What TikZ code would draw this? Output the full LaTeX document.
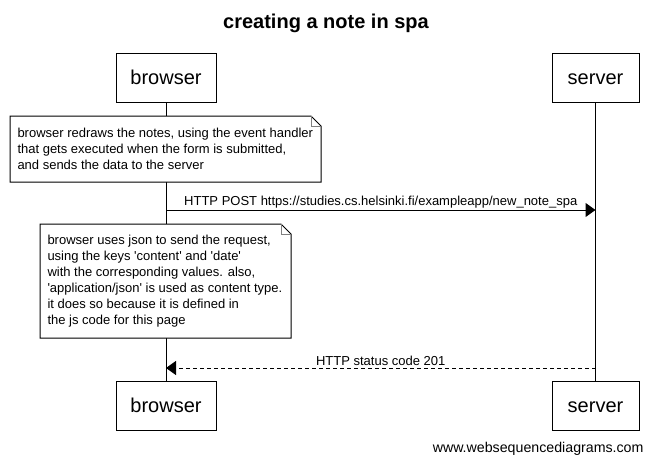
\documentclass[tikz,border=0pt]{standalone}
\usepackage{fontspec}
\setmainfont{Liberation Sans}
\usetikzlibrary{arrows.meta}

% outline of a note with its folded corner
\newcommand{\notefold}[1]{%
	\draw[fill=white] (#1.north west) -- ([xshift=-10pt]#1.north east) -- ([yshift=-10pt]#1.north east) -- (#1.south east) -- (#1.south west) -- cycle;
	\draw[gray] ([xshift=-10pt]#1.north east) |- ([yshift=-10pt]#1.north east);
}
\newcommand{\sq}{\textquotesingle}

\begin{document}
\begin{tikzpicture}[x=1pt, y=-1pt, line width=1pt,
	actor/.style={draw, fill=white, minimum height=49pt, inner sep=0pt, text height=14.5pt, text depth=0pt, font=\fontsize{20}{24}\selectfont},
	notebox/.style={inner sep=0pt, anchor=north west},
	notetext/.style={inner sep=0pt, anchor=west, align=left, font=\fontsize{13}{16}\selectfont},
	msg/.style={font=\fontsize{13}{16}\selectfont, inner sep=1.5pt},
	tip/.style={-{Triangle[length=10pt, width=14pt]}}]

	\useasboundingbox (0,0) rectangle (651,464);

	\node[font=\fontsize{20}{24}\selectfont\bfseries, anchor=base] (title) at (326,28) {creating a note in spa};

	\node[actor, minimum width=100pt] (btop) at (166,77.5) {browser};
	\node[actor, minimum width=87pt] (stop) at (595.5,77.5) {server};
	\node[actor, minimum width=100pt] (bbot) at (166,405.5) {browser};
	\node[actor, minimum width=87pt] (sbot) at (595.5,405.5) {server};

	\draw (btop) -- (bbot);
	\draw (stop) -- (sbot);

	\node[notebox, minimum width=310pt, minimum height=65pt] (note1) at (10,116) {};
	\notefold{note1}
	\node[notetext] (text1) at ([xshift=7pt]note1.west) {browser redraws the notes, using the event handler\\that gets executed when the form is submitted,\\and sends the data to the server};

	\coordinate (b1) at (166,210);
	\coordinate (s1) at (595.5,210);
	\draw[tip] (b1) -- node[msg, above] {HTTP POST https://studies.cs.helsinki.fi/exampleapp/new\_note\_spa} (s1);

	\node[notebox, minimum width=250pt, minimum height=113pt] (note2) at (40,224) {};
	\notefold{note2}
	\node[notetext] (text2) at ([xshift=7pt]note2.west) {browser uses json to send the request,\\using the keys \sq content\sq{} and \sq date\sq\\with the corresponding values. also,\\\sq application/json\sq{} is used as content type.\\it does so because it is defined in\\the js code for this page};

	\coordinate (s2) at (595.5,368);
	\coordinate (b2) at (166,368);
	\draw[tip, dash pattern=on 4pt off 3pt] (s2) -- node[msg, above] {HTTP status code 201} (b2);

	\node[font=\fontsize{14.2}{17}\selectfont, anchor=east, inner sep=0pt] (footer) at (644,449) {www.websequencediagrams.com};

\end{tikzpicture}
\end{document}
